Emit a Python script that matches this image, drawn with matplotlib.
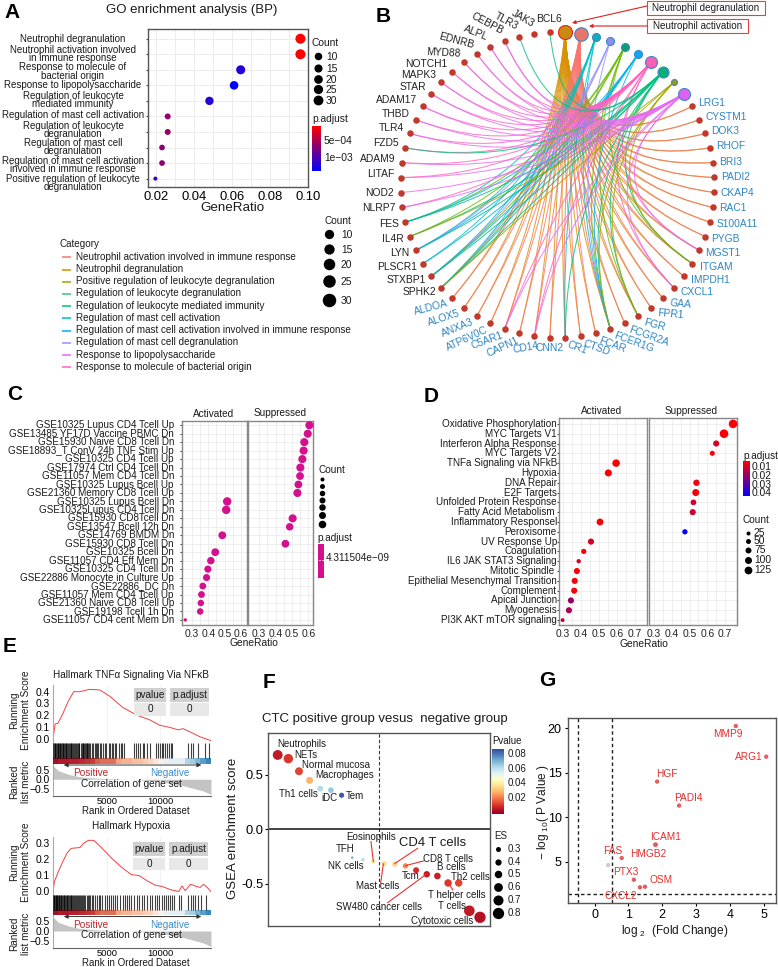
import numpy as np
import matplotlib
matplotlib.use('Agg')
import matplotlib.pyplot as plt
from matplotlib.colors import LinearSegmentedColormap
from matplotlib.path import Path
from matplotlib.patches import PathPatch, Rectangle

plt.rcParams['font.family'] = ['Liberation Sans', 'DejaVu Sans']
plt.rcParams['mathtext.default'] = 'regular'

W, H = 778, 967

# ---- A: GO dotplot
go_terms = ['Neutrophil degranulation', 'Neutrophil activation involved\nin immune response',
            'Response to molecule of\nbacterial origin', 'Response to lipopolysaccharide',
            'Regulation of leukocyte\nmediated immunity', 'Regulation of mast cell activation',
            'Regulation of leukocyte\ndegranulation', 'Regulation of mast cell\ndegranulation',
            'Regulation of mast cell activation\ninvolved in immune response',
            'Positive regulation of leukocyte\ndegranulation']
go_ratio = [0.096, 0.096, 0.0645, 0.061, 0.048, 0.026, 0.026, 0.023, 0.023, 0.0195]
go_count = [31, 31, 27, 25, 24, 14, 14, 13, 13, 6]
go_padj = [0.00007, 0.00007, 0.00115, 0.00135, 0.00115, 0.0006, 0.0006, 0.00065, 0.00065, 0.0011]
go_legend_counts = [10, 15, 20, 25, 30]

category_names = ['Neutrophil activation involved in immune response', 'Neutrophil degranulation',
                  'Positive regulation of leukocyte degranulation', 'Regulation of leukocyte degranulation',
                  'Regulation of leukocyte mediated immunity', 'Regulation of mast cell activation',
                  'Regulation of mast cell activation involved in immune response',
                  'Regulation of mast cell degranulation', 'Response to lipopolysaccharide',
                  'Response to molecule of bacterial origin']
category_cols = ['#F8766D', '#D89000', '#A3A500', '#39C57D', '#00BF7D', '#00BFC4', '#00B0F6',
                 '#9590FF', '#E76BF3', '#FF62BC']

# ---- B: gene network
right_genes = ['LRG1', 'CYSTM1', 'DOK3', 'RHOF', 'BRI3', 'PADI2', 'CKAP4', 'RAC1', 'S100A11', 'PYGB',
               'MGST1', 'ITGAM', 'IMPDH1', 'CXCL1', 'GAA', 'FPR1', 'FGR', 'FCGR2A', 'FCER1G', 'FCAR',
               'CTSD', 'CR1', 'CNN2', 'CD14', 'CAPN1', 'C5AR1', 'ATP6V0C', 'ANXA3', 'ALOX5', 'ALDOA']
left_genes = ['SPHK2', 'STXBP1', 'PLSCR1', 'LYN', 'IL4R', 'FES', 'NLRP7', 'NOD2', 'LITAF', 'ADAM9',
              'FZD5', 'TLR4', 'THBD', 'ADAM17', 'STAR', 'MAPK3', 'NOTCH1', 'MYD88', 'EDNRB', 'ALPL',
              'CEBPB', 'TLR3', 'JAK3', 'BCL6']
right_rot = [0]*14 + [-5, -5, -15, -20, -20, -20, -20, -20, 0, 10, 25, 20, 25, 22, 18, 15]
left_rot = [0]*17 + [-3, -15, -22, -28, -28, -30, 0]
hub_order = ['degran', 'activ', 'mast_act', 'mast_deg', 'leuk_deg', 'mast_imm', 'bact', 'leuk_med', 'pos', 'lps']
hub_cols = ['#C98A10', '#E8756A', '#10AEB8', '#8E8CF0', '#08A070', '#10A8F0', '#F560B8', '#08AE78', '#9A9A10', '#E060F0']
hub_edge_cols = ['#D89000', '#F8766D', '#00BFC4', '#9590FF', '#6BB800', '#00B0F6', '#FF62BC', '#00BF7D', '#A3A500', '#E76BF3']
hub_diam = [14, 13.5, 8, 8, 8, 8, 12, 11, 6, 12]
mast_set = ['SPHK2', 'STXBP1', 'LYN', 'FES', 'FCER1G', 'PLSCR1']
gram_set = ['CEBPB', 'ALPL', 'EDNRB', 'MYD88', 'NOTCH1', 'MAPK3', 'STAR', 'ADAM17', 'THBD', 'ADAM9', 'LITAF',
            'NLRP7', 'CD14', 'C5AR1', 'CXCL1', 'MGST1']
hub_genes = {
    'degran': right_genes,
    'activ': right_genes,
    'mast_act': mast_set + ['CR1'],
    'mast_deg': ['LYN', 'STXBP1', 'SPHK2', 'FCER1G'],
    'leuk_deg': ['SPHK2', 'STXBP1', 'IL4R', 'FES', 'FCER1G', 'ITGAM', 'FGR'],
    'mast_imm': mast_set,
    'bact': gram_set + ['TLR4', 'FZD5'],
    'leuk_med': ['BCL6', 'TLR3', 'FZD5', 'FES', 'IL4R', 'SPHK2', 'STXBP1', 'LYN', 'FCER1G', 'ITGAM', 'FGR', 'CR1'],
    'pos': ['IL4R', 'SPHK2', 'ITGAM', 'FGR', 'FCER1G'],
    'lps': gram_set + ['TLR4', 'NOD2'],
}

# ---- C: immunologic signatures
c_labels = ['GSE10325 Lupus CD4 Tcell Up', 'GSE13485 YF17D Vaccine PBMC Dn', 'GSE15930 Naive CD8 Tcell Dn',
            'GSE18893_T ConV 24h TNF Stim Up', 'GSE10325 CD4 Tcell Up', 'GSE17974 Ctrl CD4 Tcell Dn',
            'GSE11057 Mem CD4 Tcell Dn', 'GSE10325 Lupus Bcell Up', 'GSE21360 Memory CD8 Tcell Up',
            'GSE10325 Lupus Bcell Dn', 'GSE10325Lupus CD4 Tcell Dn', 'GSE15930 CD8Tcell Dn', 'GSE13547 Bcell 12h Dn',
            'GSE14769 BMDM Dn', 'GSE15930 CD8 Tcell Dn', 'GSE10325 Bcell Dn', 'GSE11057 CD4 Eff Mem Dn',
            'GSE10325 CD4 Tcell Dn', 'GSE22886 Monocyte in Culture Up', 'GSE22886_DC Dn', 'GSE11057 Mem CD4 Tcell Up',
            'GSE21360 Naive CD8 Tcell Up', 'GSE19198 Tcell 1h Dn', 'GSE11057 CD4 cent Mem Dn']
nan = float('nan')
c_act = [nan]*9 + [0.516, 0.51, nan, nan, 0.486, nan, 0.443, 0.416, 0.398, 0.39, 0.367, 0.359, 0.355, 0.351, 0.26]
c_sup = [0.606, 0.596, 0.575, 0.571, 0.563, 0.551, 0.549, 0.539, 0.533, nan, nan, 0.504, 0.486, nan, 0.46] + [nan]*9
c_count = [85, 85, 85, 85, 85, 85, 80, 80, 85, 90, 90, 85, 75, 80, 80, 80, 75, 70, 70, 65, 65, 60, 60, 12]

# ---- D: hallmark sets
d_labels = ['Oxidative Phosphorylation', 'MYC Targets V1', 'Interferon Alpha Response', 'MYC Targets V2',
            'TNFa Signaling via NFkB', 'Hypoxia', 'DNA Repair', 'E2F Targets', 'Unfolded Protein Response',
            'Fatty Acid Metabolism ', 'Inflammatory Responsel', 'Peroxisome', 'UV Response Up', 'Coagulation',
            'IL6 JAK STAT3 Signaling', 'Mitotic Spindle ', 'Epithelial Mesenchymal Transition', 'Complement',
            'Apical Junction', 'Myogenesis', 'PI3K AKT mTOR signaling']
d_act = [nan]*4 + [0.596, 0.553] + [nan]*4 + [0.507, nan, 0.457, 0.417, 0.389, 0.379, 0.367, 0.364, 0.346, 0.335, 0.30]
d_sup = [0.745, 0.694, 0.65, 0.628, nan, nan, 0.539, 0.535, 0.522, 0.518, nan, 0.474] + [nan]*9
d_count = [125, 125, 70, 45, 100, 90, 75, 90, 60, 70, 85, 50, 70, 50, 30, 70, 70, 70, 70, 70, 20]
d_padj = [0.006, 0.006, 0.011, 0.006, 0.006, 0.006, 0.007, 0.006, 0.013, 0.012, 0.006, 0.042, 0.011, 0.007,
          0.011, 0.006, 0.007, 0.006, 0.02, 0.018, 0.012]
d_legend_counts = [25, 50, 75, 100, 125]

# ---- E: GSEA curves
tnf_rank = [0, 200, 450, 930, 1400, 1925, 2480, 3400, 4350, 5300, 6500, 7800, 9000, 9900, 10900, 11650, 12100, 12700, 13650, 14700]
tnf_es = [0, 0.125, 0.13, 0.215, 0.315, 0.40, 0.40, 0.42, 0.415, 0.36, 0.265, 0.20, 0.16, 0.115, 0.095, 0.075, 0.085, 0.06, 0.017, -0.017]
tnf_hits = [40, 90, 150, 230, 280, 340, 420, 480, 560, 610, 690, 760, 830, 900, 950, 1030, 1100, 1180, 1250, 1330, 1400,
            1480, 1560, 1650, 1720, 1800, 1880, 1950, 2020, 2100, 2200, 2290, 2380, 2460, 2600, 2680, 2750, 2830, 2900,
            2960, 3050, 3120, 3200, 3300, 3380, 3470, 3590, 3700, 3900, 3980, 4100, 4200, 4370, 4500, 4650, 4800, 4950,
            5200, 5300, 5500, 5600, 5750, 5900, 6100, 6300, 6400, 6600, 7550, 7700, 7900, 8100, 8350, 8500, 8700, 9000,
            9600, 9800, 9950, 10100, 10250, 10400, 10600, 10800, 11000, 11100, 12600, 12800, 13000, 13500, 14100, 14500]
hyp_rank = [0, 150, 500, 900, 1300, 1700, 2500, 2900, 3300, 3800, 4500, 5500, 6500, 7300, 8000, 8800, 9500, 10200, 11000, 11700,
            12000, 12300, 12800, 13200, 13700, 14000, 14350, 14750]
hyp_es = [0, 0.06, 0.12, 0.18, 0.235, 0.265, 0.27, 0.30, 0.315, 0.315, 0.27, 0.2, 0.14, 0.1, 0.095, 0.06, 0.035, 0.025, 0.005, -0.005,
          0.03, 0.0, 0.04, 0.03, 0.02, 0.04, 0.02, -0.01]
hyp_hits = [30, 80, 130, 190, 240, 300, 360, 410, 470, 540, 600, 650, 720, 790, 850, 910, 980, 1040, 1120, 1200, 1260, 1340,
            1420, 1500, 1570, 1640, 1710, 1790, 1880, 1970, 2060, 2150, 2250, 2340, 2430, 2530, 2620, 2720, 2800, 2900,
            3000, 3120, 3250, 3340, 3480, 3600, 3760, 3900, 4100, 4260, 4400, 4600, 4800, 5000, 5200, 5350, 5600, 5800,
            6000, 6250, 6500, 6700, 6900, 7100, 7300, 7500, 7800, 8000, 8300, 8500, 8700, 9000, 9200, 9500, 9700, 9900,
            10100, 10300, 10500, 10700, 10900, 11100, 11300, 11700, 11900, 12600, 12800, 13000, 13200, 13500, 13800, 14200]
strip_vals = [0.85, 0.8, 0.8, 0.78, 0.78, 0.75, 0.72, 0.7, 0.6, 0.55, 0.55, 0.55, 0.4, 0.35, 0.35, 0.3, 0.3, 0.25, 0.22, 0.12, 0.05,
              -0.08, -0.1, -0.1, -0.1, -0.3, -0.35, -0.45, -0.55, -0.65]
metric_rank = [0, 500, 1500, 2500, 4000, 7000, 8000, 10000, 12000, 14000, 14700]
metric_val = [0.72, 0.45, 0.25, 0.13, 0.06, 0.0, -0.03, -0.12, -0.32, -0.62, -0.8]

# ---- F: cell type scores
f_cells = ['Neutrophils', 'NETs', 'Normal mucosa', 'Macrophages', 'Th1 cells', 'iDC', 'Tem', 'TFH', 'NK cells',
           'Eosinophils', 'Mast cells', 'CD4 T cells', 'CD8 T cells', 'Tcm', 'SW480 cancer cells', 'B cells',
           'T helper cells', 'Th2 cells', 'T cells', 'Cytotoxic cells']
f_es = [0.684, 0.65, 0.534, 0.45, 0.374, 0.36, 0.313, -0.26, -0.28, -0.295, -0.316, -0.32, -0.337, -0.377, -0.414, -0.43,
        -0.494, -0.494, -0.75, -0.81]
f_p = [0.005, 0.01, 0.012, 0.028, 0.062, 0.066, 0.085, 0.07, 0.06, 0.04, 0.035, 0.033, 0.022, 0.008, 0.005, 0.006, 0.01,
       0.012, 0.005, 0.003]
f_es_legend = [0.3, 0.4, 0.5, 0.6, 0.7, 0.8]

# ---- G: volcano
g_genes = ['MMP9', 'ARG1', 'HGF', 'PADI4', 'ICAM1', 'HMGB2', 'FAS', '', 'PTX3', 'OSM', 'CXCL2']
g_fc = [4.18, 5.08, 1.85, 2.5, 1.81, 1.79, 0.8, 0.4, 1.16, 1.49, 1.34]
g_p = [20.25, 16.8, 14.0, 11.3, 6.9, 6.9, 5.4, 4.6, 2.96, 2.17, 2.1]

red_blue = LinearSegmentedColormap.from_list('rb', ['#ff0000', '#0000ff'])

fig = plt.figure(figsize=(W/100, H/100), dpi=100)


def px_axes(x0, y0, x1, y1):
    return fig.add_axes([x0/W, 1-y1/H, (x1-x0)/W, (y1-y0)/H])


def area(d_px):
    return (d_px*0.72)**2


def es_size(e):
    return area(np.interp(abs(e), [0.26, 0.3, 0.8], [2.7, 5, 11.3]))


ov = fig.add_axes([0, 0, 1, 1], zorder=10)
ov.set_xlim(0, W)
ov.set_ylim(H, 0)
ov.axis('off')
ov.patch.set_alpha(0)


def txt(x, y, s, size=7.1, color='#1a1a1a', ha='left', va='center', **kw):
    return ov.text(x, y, s, fontsize=size, color=color, ha=ha, va=va, **kw)


def colorbar(x0, y0, x1, y1, cmap, top=0, bottom=1):
    cax = px_axes(x0, y0, x1, y1)
    cax.imshow(np.linspace(top, bottom, 128)[:, None], aspect='auto', cmap=cmap, vmin=min(top, bottom, 0), vmax=max(top, bottom))
    cax.axis('off')
    return cax


for letter, lx, ly in [('A', 4, 13), ('B', 376, 16), ('C', 7, 395), ('D', 424, 396), ('E', 3, 647), ('F', 263, 682), ('G', 539, 680)]:
    txt(lx, ly, letter, size=15, color='black', fontweight='bold')

# ------------------------------------------------ A
ax = px_axes(148, 29, 308, 187)
ax.set_xlim(0.0156, 0.0998)
ax.set_ylim(9.54, -0.625)
ax.scatter(go_ratio, range(10), s=[area(2.6+0.24*c) for c in go_count],
           c=[(p-0.00007)/0.00128 for p in go_padj], cmap=red_blue, vmin=0, vmax=1, zorder=3, linewidths=0)
ax.set_xticks([0.02, 0.04, 0.06, 0.08, 0.10])
ax.set_xticklabels(['0.02', '0.04', '0.06', '0.08', '0.10'], fontsize=9.4)
ax.set_xticks([0.03, 0.05, 0.07, 0.09], minor=True)
ax.set_yticks(range(10))
ax.set_yticklabels([])
ax.grid(True, which='both', color='#ececec', lw=0.7)
ax.set_axisbelow(True)
ax.tick_params(axis='x', which='minor', length=0)
ax.tick_params(axis='x', length=0, pad=3)
ax.tick_params(axis='y', length=1.5, color='#444444')
for sp in ax.spines.values():
    sp.set_color('#555555')
    sp.set_linewidth(1)
for lab, yy in zip(go_terms, [38.5, 53.7, 71.5, 84.7, 100.3, 115.3, 130, 147, 165, 183]):
    txt(73, yy, lab, size=7, ha='center', linespacing=0.78)
txt(192, 10, 'GO enrichment analysis (BP)', size=9.5, ha='center')
txt(232, 208, 'GeneRatio', size=9.6, ha='center')
txt(312, 43, 'Count', size=7.4)
for c, yy in zip(go_legend_counts, [56, 68, 79, 89, 100]):
    ov.scatter(318, yy, s=area(6.4+0.115*c), c='black', linewidths=0)
    txt(326, yy+1, str(c), size=7.4)
txt(312, 119, 'p.adjust', size=7.4)
colorbar(312, 126, 321, 171, red_blue)
txt(324, 141, '5e\u221204', size=7.4)
txt(324, 158, '1e\u221203', size=7.4)
txt(60, 244, 'Category', size=7.15)
for i, (nm, col) in enumerate(zip(category_names, category_cols)):
    yy = 257.3+i*12.2
    ov.plot([62, 71.5], [yy, yy], color=col, lw=1.3, alpha=0.85, solid_capstyle='butt')
    txt(76.5, yy-0.4, nm, size=7.15)
txt(325, 221, 'Count', size=7.2)
for c, yy, d in zip(go_legend_counts, [234, 249, 264, 281, 300], [9.3, 10.3, 11.5, 12.5, 13.5]):
    ov.scatter(329, yy, s=area(d), c='black', linewidths=0)
    txt(341, yy+1, str(c), size=7.4)

# ------------------------------------------------ B
cx, cy, rx, ry = 557.5, 185, 157, 153
step = 360/64
all_nodes = hub_order + right_genes + left_genes
node_xy = {}
node_ang = {}
for i, nm in enumerate(all_nodes):
    a = np.deg2rad(2.8+step*i)
    node_xy[nm] = (cx+rx*np.sin(a), cy-ry*np.cos(a))
    node_ang[nm] = a

for hub, col in zip(hub_order, hub_edge_cols):
    hx, hy = node_xy[hub]
    for g in hub_genes[hub]:
        gx, gy = node_xy[g]
        mx, my = (hx+gx)/2, (hy+gy)/2
        ctrl = (mx+(cx-mx)*0.85, my+(cy-my)*0.85)
        ov.add_patch(PathPatch(Path([(hx, hy), ctrl, (gx, gy)], [Path.MOVETO, Path.CURVE3, Path.CURVE3]),
                               fc='none', ec=col, lw=0.75, alpha=0.8))
for hub, col, d in zip(hub_order, hub_cols, hub_diam):
    ec = '#EE2020' if hub == 'degran' else '#3F86C8'
    ov.scatter(*node_xy[hub], s=area(d), c=col, edgecolors=ec, linewidths=0.8, zorder=4)
for genes, rots, col in [(right_genes, right_rot, '#2E86C1'), (left_genes, left_rot, '#222222')]:
    for g, rot in zip(genes, rots):
        gx, gy = node_xy[g]
        a = node_ang[g]
        ov.scatter(gx, gy, s=area(6.5), c='#C0392B', linewidths=0, zorder=4)
        tx, ty = gx+6.5*np.sin(a), gy-6.5*np.cos(a)
        ha = 'left' if np.sin(a) > 0 else 'right'
        if g == 'CNN2':
            ha = 'center'
            ty += 4
        if g == 'BCL6':
            ha = 'center'
            ty -= 4
        if g == 'CD14':
            tx += 5
            ty += 3
        if col != '#222222' and np.cos(a) < -0.5 and np.sin(a) > 0:
            tx += 2
        if col == '#222222' and np.cos(a) > 0:
            ty -= 3
        ov.text(tx, ty, g, fontsize=7.35, color=col, ha=ha, va='center', rotation=rot, rotation_mode='anchor', zorder=5)
for bx0, by0, bx1, by1, s in [(647, 1, 765, 15, 'Neutrophil degranulation'), (647, 19, 748, 33, 'Neutrophil activation')]:
    ov.add_patch(Rectangle((bx0, by0), bx1-bx0, by1-by0, fc='white', ec='#E84040', lw=0.8))
    txt((bx0+bx1)/2, (by0+by1)/2, s, size=7.1, ha='center')
ov.annotate('', xy=(572, 23), xytext=(647, 6), arrowprops=dict(arrowstyle='-|>', color='#E02020', lw=0.8, mutation_scale=5, shrinkA=0, shrinkB=0))
ov.annotate('', xy=(589, 26), xytext=(647, 26), arrowprops=dict(arrowstyle='-|>', color='#E02020', lw=0.8, mutation_scale=5, shrinkA=0, shrinkB=0))


# ------------------------------------------------ C and D facets
def facet(x0, x1, top, bottom, xlim, ticks, vals, rows_pad, sizes, cols, side):
    a = px_axes(x0, top, x1, bottom)
    a.set_xlim(*xlim)
    a.set_ylim(*rows_pad)
    n = len(vals)
    a.scatter(vals, range(n), s=sizes, c=cols, linewidths=0, zorder=3, clip_on=False)
    a.set_xticks(ticks)
    a.set_xticklabels(['%.1f' % t for t in ticks], fontsize=7.4, color='#222222')
    a.set_xticks(np.array(ticks[:-1])+0.05, minor=True)
    a.set_yticks(range(n))
    a.set_yticklabels([])
    a.grid(True, which='both', color='#ececec', lw=0.6)
    a.set_axisbelow(True)
    a.tick_params(axis='x', which='both', length=0, pad=3)
    a.tick_params(axis='y', length=1.3 if side == 'l' else 0, color='#444444')
    for sp in a.spines.values():
        sp.set_color('#888888')
        sp.set_linewidth(1)
    return a


c_sizes = [area(2.6+0.065*c) for c in c_count]
c_col = '#D4108F'
c_ticks = [0.3, 0.4, 0.5, 0.6]
facet(182, 247, 421, 625, (0.24, 0.637), c_ticks, c_act, (23.6, -0.5), c_sizes, c_col, 'l')
facet(248, 313, 421, 625, (0.232, 0.628), c_ticks, c_sup, (23.6, -0.5), c_sizes, c_col, 'r')
for i, lab in enumerate(c_labels):
    txt(174, 425.3+i*8.47, lab, size=7.1, ha='right')
txt(214, 414, 'Activated', size=7.2, ha='center')
txt(280, 413, 'Suppressed', size=7.2, ha='center')
txt(254, 643, 'GeneRatio', size=7.4, ha='center')
txt(319, 470, 'Count', size=7.2)
for yy, d in zip([479, 486, 493, 500, 507, 515, 524], [4, 5, 5.5, 6, 6.5, 7, 7.6]):
    ov.scatter(322, yy, s=area(d), c='black', linewidths=0)
txt(317, 538, 'p.adjust', size=7.2)
ov.add_patch(Rectangle((318, 543.5), 6.5, 34, fc=c_col, ec='none'))
ov.plot([319, 320.5], [560, 560], color='white', lw=0.5)
ov.plot([322.5, 324], [560, 560], color='white', lw=0.5)
txt(326, 558, '4.311504e\u221209', size=7.2)

d_sizes = [area(3+0.045*c) for c in d_count]
d_cols = red_blue(np.clip((np.array(d_padj)-0.005)/0.038, 0, 1))
d_ticks = [0.3, 0.4, 0.5, 0.6, 0.7]
facet(559, 647, 418, 625, (0.28, 0.767), d_ticks, d_act, (20.5, -0.6), d_sizes, d_cols, 'l')
facet(649, 737, 418, 625, (0.272, 0.767), d_ticks, d_sup, (20.5, -0.6), d_sizes, d_cols, 'r')
for i, lab in enumerate(d_labels):
    txt(557, 424+i*9.8, lab, size=7.15, ha='right')
txt(602, 411, 'Activated', size=7.2, ha='center')
txt(691, 411, 'Suppressed', size=7.2, ha='center')
txt(644, 644, 'GeneRatio', size=7.4, ha='center')
txt(743, 456, 'p.adjust', size=7.2)
colorbar(743, 461.5, 750, 496, red_blue)
for yy, s in zip([467, 476, 485, 493], ['0.01', '0.02', '0.03', '0.04']):
    txt(752, yy, s, size=7.4)
txt(743, 520, 'Count', size=7.2)
for c, yy, d in zip(d_legend_counts, [533, 541, 550, 560, 570], [4, 5, 6, 7, 7.8]):
    ov.scatter(748, yy, s=area(d), c='black', linewidths=0)
    txt(754, yy, str(c), size=7.4)


# ------------------------------------------------ E
def gsea(title, rank, es, hits, yt, es_top, es_bot, strip_bot, met_bot, es_ylim, es_ticks):
    x0, x1 = 53, 211
    a = px_axes(x0, es_top, x1, es_bot)
    a.plot(rank, es, color='#F04040', lw=0.7)
    a.set_xlim(0, 14700)
    a.set_ylim(*es_ylim)
    a.set_yticks(es_ticks)
    a.set_yticklabels(['%.1f' % t for t in es_ticks], fontsize=7.4)
    a.set_xticks([5000, 10000])
    a.set_xticklabels([])
    a.grid(True, axis='x', color='#f0f0f0', lw=0.6)
    a.tick_params(length=0, pad=2)
    for k in ['top', 'right', 'bottom']:
        a.spines[k].set_visible(False)
    a.spines['left'].set_color('#aaaaaa')
    txt(131, yt, title, size=7.2, ha='center')

    b = px_axes(x0, es_bot, x1, strip_bot)
    b.vlines(hits, 0.27, 1, color='black', lw=0.8, alpha=0.75)
    b.pcolormesh(np.linspace(0, 14700, len(strip_vals)+1), [0, 0.27], [strip_vals], cmap='RdBu_r', vmin=-1, vmax=1)
    b.set_xlim(0, 14700)
    b.set_ylim(0, 1)
    b.axis('off')

    m = px_axes(x0, strip_bot, x1, met_bot)
    m.fill_between(metric_rank, metric_val, 0, color='#c4c4c4', lw=0)
    m.set_xlim(0, 14700)
    m.set_ylim(-0.88, 0.83)
    m.set_xticks([5000, 10000])
    m.set_xticklabels(['5000', '10000'], fontsize=6.8)
    m.set_yticks([-0.5, 0, 0.5])
    m.set_yticklabels(['\u22120.5', '0.0', '0.5'], fontsize=7.4)
    m.grid(True, axis='x', color='#f0f0f0', lw=0.6)
    m.tick_params(axis='y', length=0, pad=2)
    m.tick_params(axis='x', length=0, pad=0.5)
    for k in ['top', 'right']:
        m.spines[k].set_visible(False)
    m.spines['left'].set_color('#aaaaaa')
    m.spines['bottom'].set_color('#666666')
    m.annotate('', xy=(1000, 0.75), xytext=(13800, 0.75),
               arrowprops=dict(arrowstyle='<|-|>', color='#333333', lw=0.7, mutation_scale=6, shrinkA=0, shrinkB=0))
    ym = strip_bot
    txt(91, ym+10, 'Positive', size=7.2, color='#C0282D', ha='center')
    txt(170, ym+10, 'Negative', size=7.2, color='#3C8DC8', ha='center')
    txt(131, ym+20.5, 'Correlation of gene set', size=7.2, ha='center')
    txt(136, met_bot+15.5, 'Rank in Ordered Dataset', size=7, ha='center')
    txt(20, (es_top+es_bot)/2-4, 'Running\nEnrichment Score', size=7.2, ha='center', rotation=90, linespacing=1.3)
    txt(20, (strip_bot+met_bot)/2+2, 'Ranked\nlist metric', size=7.2, ha='center', rotation=90, linespacing=1.3)


gsea('Hallmark TNF\u03b1 Signaling Via NF\u03baB', tnf_rank, tnf_es, tnf_hits, 675, 685, 743, 763.5, 796, (-0.037, 0.457), [0, 0.1, 0.2, 0.3, 0.4])
gsea('Hallmark Hypoxia', hyp_rank, hyp_es, hyp_hits, 826, 837, 895, 915, 948, (-0.027, 0.336), [0, 0.1, 0.2, 0.3])
for (xa, xb, xc, xd, y0, y1, y2, y3) in [(134, 166, 170, 209, 688, 701.5, 703, 716), (133, 165, 169, 208, 842, 856, 857.5, 870)]:
    ov.add_patch(Rectangle((xa, y0), xb-xa, y1-y0, fc='#d0d0d0', ec='none'))
    ov.add_patch(Rectangle((xc, y0), xd-xc, y1-y0, fc='#d0d0d0', ec='none'))
    ov.add_patch(Rectangle((xa, y2), xb-xa, y3-y2, fc='#e8e8e8', ec='none'))
    ov.add_patch(Rectangle((xc, y2), xd-xc, y3-y2, fc='#e8e8e8', ec='none'))
    txt((xa+xb)/2, (y0+y1)/2, 'pvalue', size=7.2, ha='center')
    txt((xc+xd)/2, (y0+y1)/2, 'p.adjust', size=7.2, ha='center')
    txt((xa+xb)/2, (y2+y3)/2, '0', size=7.2, ha='center')
    txt((xc+xd)/2, (y2+y3)/2, '0', size=7.2, ha='center')

# ------------------------------------------------ F
ax = px_axes(268, 733, 490, 926)
ax.set_xlim(0.09, 20.94)
ax.set_ylim(-0.89, 0.886)
f_cmap = plt.get_cmap('RdYlBu')
ax.scatter(range(1, 21), f_es, s=[es_size(e) for e in f_es], c=f_p, cmap=f_cmap, vmin=0, vmax=0.09,
           linewidths=0, zorder=3)
ax.axvline(10.5, color='#333333', lw=0.8, ls=(0, (3, 2)))
ax.axhline(0, color='#222222', lw=1.2)
ax.set_xticks([])
ax.set_yticks([-0.5, 0, 0.5])
ax.set_yticklabels(['-0.5', '0.0', '0.5'], fontsize=9.3)
ax.tick_params(axis='y', length=2, pad=1.5)
for sp in ax.spines.values():
    sp.set_color('#555555')
    sp.set_linewidth(1)


def fz(zx, zy):
    return 235+zx/3, 660+zy/3


for s, zx, zy in [('Neutrophils', 127, 251), ('NETs', 177, 284), ('Normal mucosa', 201, 314), ('Macrophages', 240, 346),
                  ('Th1 cells', 133, 402), ('iDC', 260, 413), ('Tem', 333, 407), ('Eosinophils', 333, 531), ('TFH', 303, 566),
                  ('NK cells', 278, 617), ('CD8 T cells', 565, 597), ('B cells', 607, 622), ('Tcm', 500, 648),
                  ('Th2 cells', 648, 650), ('Mast cells', 364, 677), ('T helper cells', 578, 704),
                  ('SW480 cancer cells', 303, 741), ('T cells', 608, 739), ('Cytotoxic cells', 527, 782)]:
    xx, yy = fz(zx, zy)
    txt(xx, yy, s, size=7)
xx, yy = fz(492, 548)
txt(xx, yy, 'CD4 T cells', size=9.4)
for p0, p1 in [((408, 545), (415, 605)), ((480, 610), (548, 565)), ((511, 617), (565, 603)), ((445, 612), (437, 670)),
               ((575, 642), (458, 728)), ((639, 668), (654, 690))]:
    a0, a1 = fz(*p0), fz(*p1)
    ov.plot([a0[0], a1[0]], [a0[1], a1[1]], color='#E83030', lw=0.8)
txt(385, 719, 'CTC positive group vesus  negative group', size=9.5, ha='center')
txt(233, 828, 'GSEA enrichment score', size=9.5, ha='center', rotation=90)
txt(492, 741, 'Pvalue', size=7)
cax = colorbar(492, 749, 504, 814, f_cmap, top=0.087, bottom=-0.002)
cax.images[0].set_clim(0, 0.09)
for yy, s in zip([754.3, 768.7, 783.3, 798], ['0.08', '0.06', '0.04', '0.02']):
    txt(508, yy, s, size=7)
txt(494, 836, 'ES', size=7)
for e, zy in zip(f_es_legend, [568, 606, 643, 682, 720, 758]):
    xx, yy = fz(788, zy)
    ov.scatter(xx, yy, s=es_size(e), c='black', linewidths=0)
    txt(508, yy, '%.1f' % e, size=7)

# ------------------------------------------------ G
ax = px_axes(568, 718, 776, 903)
ax.set_xlim(-0.79, 5.37)
ax.set_ylim(0.34, 21.15)
g_cols = ['#E06060' if g else '#cccccc' for g in g_genes]
ax.scatter(g_fc, g_p, s=area(4.4), c=g_cols, linewidths=0, zorder=3)
for v in [-0.5, 0.5]:
    ax.axvline(v, color='#222222', lw=1, ls=(0, (2.5, 2)))
ax.axhline(1.3, color='#222222', lw=1, ls=(0, (2.5, 2)))
ax.set_xticks(range(6))
ax.set_xticklabels([str(i) for i in range(6)], fontsize=9)
ax.set_yticks([5, 10, 15, 20])
ax.set_yticklabels(['5', '10', '15', '20'], fontsize=9)
ax.tick_params(length=2.5, pad=2)
for sp in ax.spines.values():
    sp.set_color('#555555')
    sp.set_linewidth(1)
for s, zx, zy in [('MMP9', 593, 223), ('ARG1', 657, 292), ('HGF', 410, 342), ('PADI4', 475, 414), ('ICAM1', 406, 531),
                  ('HMGB2', 356, 581), ('FAS', 249, 572), ('PTX3', 287, 637), ('OSM', 393, 661), ('CXCL2', 273, 708)]:
    txt(530+zx/3, 660+zy/3, s, size=7.3, color='#E03030', ha='center')
txt(530+435/3, 660+812/3, '$\\mathregular{log_{\\ 2}}$  (Fold Change)', size=8.6, ha='center')
txt(530+38/3, 660+455/3, '\u2212 $\\mathregular{log_{\\ 10}}$( P Value )', size=8.6, ha='center', rotation=90)

fig.savefig('out.png', dpi=100)
